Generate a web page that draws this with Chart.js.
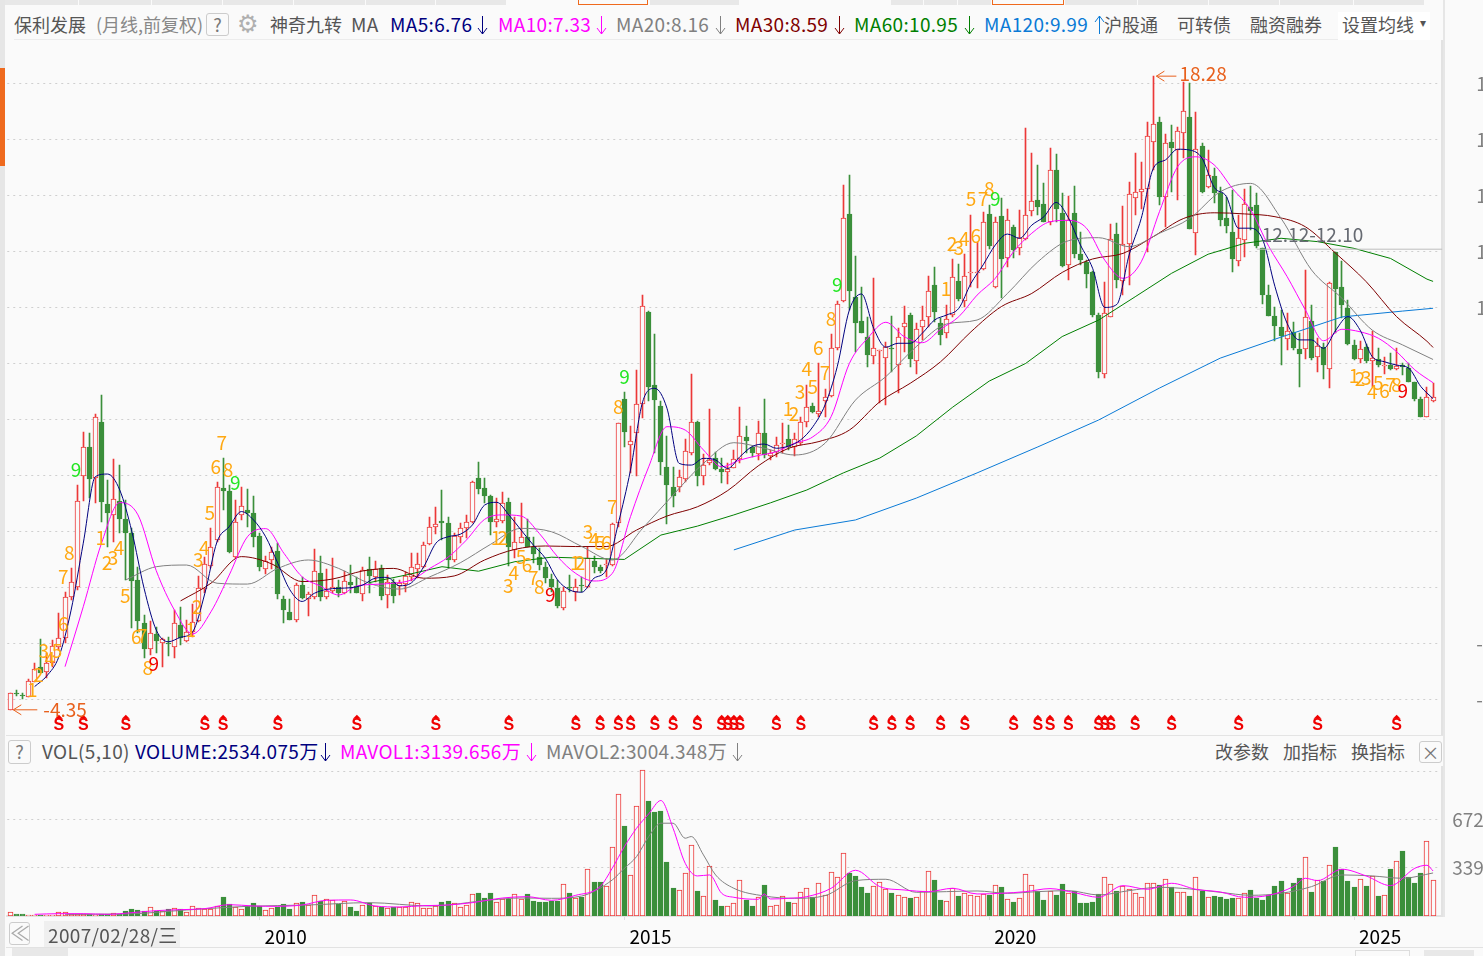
<!DOCTYPE html>
<html>
<head>
<meta charset="utf-8">
<title>保利发展 月线</title>
<script src="https://cdn.jsdelivr.net/npm/chart.js@4/dist/chart.umd.min.js"></script>
<style>
html, body { margin: 0; padding: 0; width: 1483px; height: 956px; overflow: hidden; background: #fafafa; }
body { position: relative; font-family: "Noto Sans CJK SC", "Noto Sans", sans-serif; font-size: 18px; }
canvas { position: absolute; left: 0; }
.t { position: absolute; white-space: nowrap; line-height: 24px; height: 24px; }
.box { position: absolute; border: 1px solid #ccc; border-radius: 3px; box-sizing: border-box; text-align: center; color: #777; line-height: 20px; }
.bar { position: absolute; background: #e8e8e8; box-sizing: border-box; }
</style>
</head>
<body>
<canvas id="priceChart" width="1540" height="695" style="top:40px;width:1540px;height:695px"></canvas>
<canvas id="volChart" width="1540" height="182" style="top:766px;width:1540px;height:182px"></canvas>
<script>
// monthly candles
var opens = [
-4.35,-3.74,-3.81,-3.88,-3.35,-2.81,-2.99,-2.69,-2.10,-1.80,-0.31,0.05,4.00,5.02,3.92,5.93,2.99,2.61,3.12,2.45,
1.98,0.29,-1.26,-2.19,-1.64,-1.95,-1.96,-2.10,-1.32,-1.90,-1.56,-1.17,-0.05,0.79,1.71,3.56,3.46,1.10,2.61,2.79,
2.67,1.86,0.67,0.99,1.32,-0.39,-0.86,-1.14,0.11,-0.38,-0.31,0.52,-0.33,-0.10,0.02,-0.19,0.21,0.07,-0.23,0.67,
0.39,0.71,-0.26,0.20,0.07,0.14,0.40,0.69,0.76,1.57,2.17,2.39,2.31,0.99,1.83,2.13,2.35,3.93,3.57,3.29,
2.37,2.40,3.07,1.36,1.62,1.83,1.48,1.12,0.74,0.32,-0.01,-0.70,0.02,-0.13,0.10,0.02,0.98,0.74,0.82,0.82,
2.31,6.74,5.10,5.55,6.56,9.86,7.24,6.50,4.32,3.60,3.62,3.88,4.81,5.94,4.01,4.45,4.63,4.25,4.13,4.27,
4.62,5.38,5.02,4.79,5.52,4.71,4.87,5.13,5.31,5.02,5.17,5.94,6.50,6.23,6.67,6.87,8.56,10.26,13.36,10.39,
9.54,8.95,8.29,8.45,8.20,8.56,7.96,9.31,9.75,8.10,9.31,9.67,10.81,9.45,9.10,9.74,10.95,10.25,11.24,11.27,
11.39,13.36,10.76,13.29,11.77,12.89,12.15,12.46,13.45,13.86,13.71,13.07,14.93,13.38,11.52,13.39,11.93,11.65,11.27,9.75,
7.63,9.69,12.64,10.98,12.27,13.92,14.15,14.24,15.94,16.64,13.95,15.92,15.64,16.26,16.82,12.67,15.79,14.33,14.71,14.12,
13.23,12.71,11.69,12.43,13.60,13.68,12.13,10.46,9.71,9.33,8.88,9.15,8.54,8.55,9.52,8.26,8.62,7.83,12.00,10.75,
10.00,8.68,8.19,8.62,8.12,8.19,7.92,7.95,7.81,7.95,7.86,7.35,6.74,6.10,6.69];
var closes = [
-3.76,-3.77,-3.83,-3.31,-2.88,-3.05,-2.69,-2.07,-1.80,-0.31,0.20,3.12,5.05,3.88,6.10,3.08,2.67,3.17,2.48,1.98,
0.26,-1.17,-2.17,-1.62,-1.89,-1.83,-1.99,-1.26,-1.80,-1.56,-1.20,-0.01,0.85,1.48,3.62,3.48,1.30,2.37,2.94,2.69,
1.83,0.76,0.98,1.27,-0.21,-0.79,-1.14,0.11,-0.35,-0.23,0.60,-0.31,-0.10,0.02,-0.19,0.24,0.12,-0.17,0.64,0.44,
0.67,-0.27,0.23,-0.27,0.17,0.43,0.74,0.85,1.52,2.17,2.27,2.33,1.00,1.87,2.13,2.35,3.77,3.55,3.29,2.37,
2.45,3.02,1.48,1.65,1.81,1.45,1.21,0.82,0.35,0.05,-0.64,-0.10,0.00,0.05,0.07,1.06,0.76,0.60,0.86,2.27,
5.88,5.58,5.26,6.56,10.06,7.19,6.71,4.51,3.69,3.30,3.98,4.88,5.92,4.01,4.39,4.57,4.26,4.15,4.25,4.62,
5.42,5.26,4.81,5.52,4.75,4.83,5.10,5.17,5.05,5.31,5.92,6.45,6.30,6.33,6.83,8.56,10.13,13.20,10.62,9.45,
9.12,8.33,8.56,8.49,8.62,8.52,8.95,9.45,8.19,9.24,9.56,10.60,9.87,9.05,9.62,11.10,10.33,11.15,11.27,11.30,
13.06,12.21,13.06,11.76,13.14,12.08,12.49,13.31,13.81,13.62,13.07,14.92,13.54,11.50,13.14,11.93,11.71,11.21,9.75,7.73,
9.81,12.46,11.01,12.27,14.06,14.14,14.24,16.14,16.56,13.98,15.88,15.70,16.32,17.02,12.83,15.67,14.15,14.75,14.12,13.14,
12.93,11.75,12.49,13.70,13.46,12.21,10.46,9.71,9.36,9.00,9.19,8.57,8.36,9.67,8.21,8.65,7.96,10.88,10.67,10.11,
8.71,8.17,8.52,8.11,8.20,7.96,7.95,7.83,7.94,7.90,7.37,6.76,6.12,6.81,6.81];
var highs = [
-3.76,-3.64,-3.74,-3.26,-2.69,-1.83,-2.33,-1.86,-0.90,-0.13,0.70,3.68,5.58,5.55,6.21,6.89,3.86,4.60,4.39,3.14,
2.13,0.76,-0.96,-1.17,-1.38,-1.80,-1.74,-0.79,-0.69,-1.14,-0.57,0.43,1.12,2.13,3.80,4.63,3.68,3.14,3.60,3.52,
3.29,1.95,1.14,1.45,1.60,-0.29,-0.39,0.17,0.38,-0.14,1.39,1.14,0.67,1.08,0.29,0.62,0.82,0.40,0.76,1.11,
0.95,0.82,0.46,0.31,0.29,0.58,1.24,1.24,1.64,2.52,2.90,3.50,2.52,1.95,2.33,2.61,3.82,4.50,3.92,3.32,
3.20,3.43,3.20,2.55,3.05,2.45,1.83,1.42,0.94,0.50,0.29,0.05,0.46,0.32,0.40,1.48,1.14,0.82,1.02,2.33,
5.90,7.00,5.79,7.79,10.46,9.90,9.07,6.68,5.43,4.33,4.21,5.31,7.64,5.98,4.79,6.38,4.87,4.63,4.48,4.93,
6.45,5.79,5.05,5.96,6.75,4.93,5.40,5.88,5.82,5.52,6.10,7.25,6.60,8.02,7.10,9.07,10.26,14.39,14.75,11.86,
10.74,9.69,11.07,8.50,8.80,9.71,9.27,10.07,9.81,9.45,10.07,11.14,11.45,9.63,10.11,11.74,11.56,11.93,13.32,12.37,
13.44,13.68,13.26,13.92,13.54,12.96,13.50,16.44,15.52,15.11,14.45,15.70,15.49,14.10,14.01,14.36,12.73,11.71,11.32,9.81,
10.92,13.00,13.02,13.65,14.49,15.54,15.20,16.65,18.28,16.83,16.20,16.54,16.45,18.06,18.02,17.01,15.88,15.64,14.99,14.33,
13.98,14.21,13.32,14.24,14.36,14.10,12.13,10.82,10.05,9.93,9.81,9.51,9.10,11.36,10.10,8.92,8.74,10.94,12.00,11.68,
10.29,8.86,8.82,8.71,9.17,8.56,8.26,8.38,8.56,8.02,8.02,7.37,6.83,7.19,7.31];
var lows = [
-4.35,-3.86,-3.98,-3.88,-3.35,-3.05,-3.23,-2.81,-2.21,-1.98,-0.43,-0.07,3.12,3.20,3.02,2.37,1.48,1.65,1.95,0.29,
-1.44,-1.62,-2.51,-2.39,-2.31,-2.81,-2.43,-2.51,-2.04,-1.92,-1.74,-1.20,-0.19,0.70,1.65,2.79,1.26,1.06,2.43,2.19,
1.45,0.62,0.50,0.68,-0.38,-1.24,-1.14,-1.20,-0.40,-1.00,-0.40,-0.46,-0.38,-0.19,-0.33,-0.23,-0.19,-0.19,-0.46,-0.17,
0.23,-0.43,-0.70,-0.52,-0.25,-0.15,0.26,0.35,0.70,1.54,1.93,1.71,0.73,0.94,1.60,1.77,2.31,3.36,3.02,1.89,
2.19,2.31,0.79,1.06,1.60,1.45,0.88,0.64,0.19,-0.13,-0.73,-0.79,-0.13,-0.45,-0.13,-0.01,0.52,0.55,0.40,0.79,
2.19,5.05,4.10,4.00,6.08,6.69,4.81,4.04,2.27,2.90,3.44,3.80,4.75,3.65,3.68,4.39,4.21,3.76,3.71,4.27,
4.45,4.81,4.67,4.57,4.63,4.57,4.67,4.81,4.93,4.71,5.11,5.76,6.26,6.12,6.12,6.83,8.50,10.23,9.93,8.44,
9.10,7.90,8.00,6.62,6.54,7.73,6.95,8.44,7.90,7.63,8.86,9.33,9.51,8.68,8.94,9.69,10.26,10.05,10.76,10.73,
11.36,12.11,10.70,10.35,11.48,11.77,11.89,12.43,13.30,13.32,13.07,12.96,13.08,11.48,11.00,11.77,11.54,10.73,9.69,7.49,
7.49,9.69,10.70,10.46,10.82,13.32,13.54,12.01,14.93,13.68,12.90,14.15,13.86,15.35,12.83,11.89,14.10,14.27,13.76,12.93,
12.67,11.30,11.50,11.83,12.79,12.13,10.14,9.71,8.83,7.96,8.50,8.50,7.19,8.17,8.14,7.73,7.45,7.15,9.10,9.63,
8.68,8.14,8.02,8.05,7.19,7.88,7.63,7.79,7.79,7.61,7.35,6.69,6.12,6.10,6.65];

// volume, in 万
var volumes = [
256,140,140,93,70,70,70,70,256,256,140,140,140,140,93,117,117,210,117,350,
489,419,326,606,350,373,466,536,466,256,676,536,466,466,722,1328,816,606,466,722,
909,722,396,536,652,839,466,885,979,769,1445,1025,1165,1118,839,1072,629,350,792,932,
676,629,536,652,629,629,955,885,559,536,699,955,1049,885,652,769,1515,1608,1258,1608,
979,1165,1188,1515,1212,1538,1049,979,979,1049,1072,2214,1584,1258,1351,3262,2377,2377,2120,4800,
8505,6291,2866,7666,10205,8039,7270,7340,3775,1957,1794,2982,4940,1748,1375,3472,1118,699,676,885,
2493,1118,699,1305,2167,676,746,1375,1002,885,1654,1934,1305,2283,1445,3052,2703,4380,3006,2796,
2027,1608,2097,2377,1864,1608,1445,1305,1258,1351,1724,3122,2516,1118,1025,1934,1398,1584,1468,1375,
1538,1468,2144,2004,1165,979,1235,2913,2144,1724,1118,1724,1468,2237,1584,1724,909,909,979,1538,
2703,2214,1771,2120,1864,1584,1305,2283,2283,2167,2563,2004,1654,1654,1398,2703,1771,1305,1398,1328,
1188,1282,1258,1584,1817,1258,1118,1445,2097,2447,1631,2307,2656,4101,1678,2493,2447,3542,4823,3262,
2447,2027,2563,2097,2796,1398,1468,3285,3821,4544,2703,2307,3006,5219,2534];

// moving averages, read every few months along each line
var ma5 = [
-3.52,-3.14,-2.45,-0.79,1.60,3.98,4.07,3.50,2.01,-0.01,-1.50,-1.92,-1.76,-1.56,-0.19,1.65,2.19,2.73,
2.43,1.83,0.88,-0.07,-0.48,-0.19,-0.05,-0.01,0.01,0.11,0.35,0.38,0.08,0.19,0.76,1.60,1.83,1.92,2.25,2.96,
3.06,2.61,2.07,1.54,1.06,0.29,-0.07,-0.15,0.35,0.64,2.31,4.21,6.65,7.13,6.42,4.45,4.39,4.63,4.57,4.27,
4.69,5.05,5.14,4.99,5.07,5.29,5.76,6.54,7.90,9.93,10.50,9.27,8.60,8.74,8.74,9.10,9.57,9.75,9.99,
10.88,11.54,12.25,12.64,12.49,12.96,13.26,13.77,13.23,12.25,11.42,10.02,10.13,11.89,13.20,14.99,15.29,15.67,15.64,15.35,
14.31,13.98,12.85,12.85,12.43,10.76,9.45,8.86,8.86,8.56,9.21,9.69,9.21,8.26,8.08,7.96,7.85,7.19,6.76];
var ma10 = [
-2.81,-0.67,1.60,3.05,2.61,0.62,-0.79,-1.64,-0.85,0.46,1.83,
2.12,1.24,0.40,0.07,-0.25,0.07,0.13,0.17,0.29,0.70,1.10,1.71,2.45,
2.61,2.57,1.95,1.12,0.52,0.25,0.52,2.55,4.33,5.76,5.64,4.93,4.33,
4.57,4.73,4.87,5.17,5.40,6.12,8.02,8.92,9.49,8.98,8.76,9.24,9.69,
10.46,11.06,12.01,12.67,13.08,13.13,12.85,11.71,11.06,11.65,13.44,15.05,15.40,
15.11,14.27,13.50,12.19,11.12,9.93,8.83,9.24,9.15,8.92,8.44,7.79,7.33];
var ma20 = [
0.29,0.76,0.82,0.17,0.14,0.70,1.00,0.70,0.17,-0.04,0.40,0.90,1.56,
2.13,2.01,1.48,1.00,2.13,3.32,4.45,5.19,4.99,4.75,5.17,6.71,7.55,8.62,9.43,
9.57,10.52,11.65,12.40,12.51,12.19,12.67,13.20,14.15,14.45,13.20,11.36,10.35,9.21,8.68,8.16];
var ma30 = [
-0.46,0.17,1.12,0.86,0.23,0.32,0.61,0.70,0.35,0.43,1.00,
1.38,1.50,1.48,1.48,2.07,2.57,2.90,3.48,4.36,4.99,5.23,5.64,6.65,7.31,8.08,
9.15,10.05,10.52,11.27,11.75,11.95,12.55,13.20,13.40,13.36,13.26,12.90,11.95,10.94,9.69,8.81];
var ma60 = [
0.19,0.46,0.76,0.60,0.94,1.10,1.06,1.02,1.89,2.21,2.61,3.04,3.50,4.11,4.64,5.43,6.46,
7.39,8.02,8.98,9.57,10.40,11.24,11.92,12.31,12.49,12.37,12.13,11.77,11.03];
var ma120 = [1.36,2.07,2.43,3.21,4.11,5.04,6.00,7.14,8.21,8.96,9.68,9.89];
var maLast = { ma30: 8.59, ma60: 10.95, ma120: 9.99 };

var mavol1At = [4,8,12,16,20,24,28,32,36,40,44,48,52,56,60,64,68,72,76,81,85,89,93,97,99,101,103,105,107,109,111,113,115,117,119,123,124,125,128,131,135,139,143,147,151,155,159,163,167,171,175,179,183,187,191,195,199,203,207,211,213,215,219,223,227,231,233,234];
var mavol1 = [117,163,163,117,233,373,443,513,792,699,676,769,1095,1118,699,629,722,769,932,1258,1351,1095,1445,2050,3332,4846,6128,7130,8062,6128,3681,2796,2866,1584,1305,1165,1538,1188,1235,1351,1934,3192,2050,1817,1701,1934,1538,1584,1701,1911,1631,1305,2120,1864,2283,1864,1678,1305,1445,2050,2633,2470,3262,2796,2120,3332,3542,3140];
var mavol2At = [9,19,29,39,49,59,69,79,84,89,94,99,101,103,105,107,109,111,112,114,116,119,124,129,134,139,144,149,154,159,164,169,174,179,184,189,194,199,204,209,214,219,224,229,234];
var mavol2 = [117,140,419,676,769,932,699,1118,1258,1235,1398,2516,3332,4147,5545,6477,6477,5429,5545,4264,2866,1934,1398,1235,1421,2470,2563,1654,1701,1748,1584,1701,1771,1468,1771,2004,1887,1654,1445,1584,2050,2866,2796,2633,3004];

// 神奇九转 counts: digit, month position, price level
var nineDigits = "123456789123456789123456789123456789123456789123456789123456789123456789";
var nineIdx = [3.6,4.6,5.5,6.5,7.7,8.7,8.7,9.7,10.8,14.9,15.9,16.9,17.9,18.9,20.7,21.7,22.6,23.6,29.7,30.7,30.9,31.9,32.8,33.8,34.8,35.8,37,79.9,81,81.9,82.8,84,85,86,87,88.8,92.9,93.7,95,96,97,98,99,100,101,127.9,128.9,129.9,131,132,132.9,134,135,136,153.9,154.9,156,156.9,158,158.8,160,161,162,221,222,223,224,225,226,227,228,229];
var nineVal = [-3.64,-3.11,-2.25,-2.54,-2.25,-1.29,0.39,1.25,4.21,1.79,0.89,1.07,1.43,-0.29,-1.75,-1.71,-2.86,-2.71,-1.5,-0.68,1.0,1.43,2.68,4.32,5.18,4.21,3.75,1.79,1.79,0.07,0.54,1.11,0.82,0.36,0.04,-0.25,0.89,0.89,2.0,1.71,1.61,1.61,2.89,6.46,7.54,6.39,6.21,7.0,7.82,7.18,8.57,7.68,9.61,10.82,10.68,12.29,12.14,12.46,13.89,12.57,13.89,14.25,13.89,7.57,7.46,7.5,7.0,7.32,7.04,7.25,7.25,7.04];
var redNineAt = [23.6, 88.8, 229];
// S marks in the bottom row
var sMarks = [8,12,19,32,35,44,57,70,82,93,97,100,102,106,109,113,117,118,119,120,126,130,142,145,148,153,157,165,169,171,174,179,180,181,185,191,202,215,228];
var priceHigh = 18.28, priceLow = -4.35, lineFrom = 12.12, lineTo = 12.10;
var yearTicks = ["2010/01", "2015/01", "2020/01", "2025/01"];
var volTicks = [0, 3395, 6725, 10060];

var months = [];
var yy = 2006, mm = 8;
for (var n = 0; n < 236; n++) {
    months.push(yy + "/" + (mm < 10 ? "0" : "") + mm);
    mm++;
    if (mm > 12) { mm = 1; yy++; }
}

function sparse(vals, start, step, last) {
    var out = new Array(months.length - 1).fill(null);
    vals.forEach(function (v, k) { out[start + k * step] = v; });
    if (last !== undefined) out[234] = last;
    return out;
}
function placed(at, vals) {
    var out = new Array(months.length - 1).fill(null);
    at.forEach(function (a, k) { out[a] = vals[k]; });
    return out;
}

var RED = "#ec3838", GREEN = "#3b8f3b", PANE = "#fafafa", FONT = "'Noto Sans CJK SC','Noto Sans',sans-serif";
function isUp(i) { return closes[i] >= opens[i]; }
function maLine(label, data, color, order, straight) {
    var ds = { type: "line", label: label, data: data, borderColor: color, borderWidth: 1, pointRadius: 0, spanGaps: true, order: order };
    if (!straight) ds.cubicInterpolationMode = "monotone";
    return ds;
}

// snap bars to whole pixels so the candles stay crisp
var snapBars = {
    id: "snapBars",
    afterDatasetsUpdate: function (chart) {
        chart.data.datasets.forEach(function (ds, d) {
            var meta = chart.getDatasetMeta(d);
            if (meta.type !== "bar") return;
            meta.data.forEach(function (el) {
                el.x = Math.floor(el.x) + 0.5;
                el.y = Math.round(el.y);
                el.base = Math.round(el.base);
                if (el.y === el.base) el.base = el.y + 1;
            });
        });
    }
};

// text marks on the price pane
var priceMarks = {
    id: "priceMarks",
    afterDatasetsDraw: function (chart) {
        var c = chart.ctx, x = chart.scales.x, y = chart.scales.y;
        c.save();
        c.textBaseline = "middle";
        c.textAlign = "center";
        c.font = "19px " + FONT;
        nineIdx.forEach(function (ix, k) {
            var d = nineDigits.charAt(k);
            c.fillStyle = "#ffa811";
            if (d === "9") c.fillStyle = redNineAt.indexOf(ix) >= 0 ? "#f00000" : "#22e622";
            c.fillText(d, x.getPixelForValue(ix), y.getPixelForValue(nineVal[k]));
        });
        // S marks
        c.fillStyle = "#f00000";
        sMarks.forEach(function (ix) {
            var px = x.getPixelForValue(ix), py = y.getPixelForValue(-4.85);
            c.font = "bold 16px 'Liberation Sans'";
            c.fillText("S", px, py + 2);
            c.beginPath();
            c.moveTo(px - 4, py - 5);
            c.lineTo(px, py - 9);
            c.lineTo(px + 4, py - 5);
            c.fill();
        });
        // highest and lowest price
        c.strokeStyle = c.fillStyle = "#e8601c";
        c.lineWidth = 1;
        c.font = "19px " + FONT;
        c.textAlign = "left";
        var hx = x.getPixelForValue(188) + 3, hy = y.getPixelForValue(priceHigh);
        arrowLeft(c, hx, hy, 20);
        c.fillText(priceHigh.toFixed(2), hx + 23, hy - 2);
        var lx = x.getPixelForValue(0) + 3, ly = y.getPixelForValue(priceLow);
        arrowLeft(c, lx, ly, 24);
        c.fillText(priceLow.toFixed(2), lx + 30, ly);
        // range line
        var rx = x.getPixelForValue(205), ry = y.getPixelForValue(lineTo);
        c.strokeStyle = "#bdbdbd";
        c.beginPath();
        c.moveTo(rx, ry);
        c.lineTo(chart.chartArea.right, ry);
        c.stroke();
        c.fillStyle = "#666a72";
        c.fillText(lineFrom.toFixed(2) + "-" + lineTo.toFixed(2), rx + 5, ry - 14);
        c.restore();
    }
};
function arrowLeft(c, px, py, len) {
    c.beginPath();
    c.moveTo(px + len, py);
    c.lineTo(px, py);
    c.moveTo(px + 8, py - 5);
    c.lineTo(px, py);
    c.lineTo(px + 8, py + 5);
    c.stroke();
}

new Chart(document.getElementById("priceChart"), {
    type: "bar",
    plugins: [snapBars, priceMarks],
    data: {
        labels: months,
        datasets: [
            maLine("MA5", sparse(ma5, 4, 2), "#00007f", 1),
            maLine("MA10", sparse(ma10, 9, 3), "#ff00ff", 2),
            maLine("MA20", sparse(ma20, 19, 5), "#808080", 3),
            maLine("MA30", sparse(ma30, 28, 5, maLast.ma30), "#7f0000", 4),
            maLine("MA60", sparse(ma60, 59, 6, maLast.ma60), "#007f00", 5, true),
            maLine("MA120", sparse(ma120, 119, 10, maLast.ma120), "#0a7ad6", 6, true),
            {
                label: "body",
                data: opens.map(function (o, i) { return [o, closes[i]]; }),
                grouped: false,
                barThickness: 5,
                borderWidth: 1,
                borderSkipped: false,
                borderColor: function (ctx) { return isUp(ctx.dataIndex) ? RED : GREEN; },
                backgroundColor: function (ctx) { return isUp(ctx.dataIndex) ? PANE : GREEN; },
                order: 9
            },
            {
                label: "wick",
                data: lows.map(function (l, i) { return [l, highs[i]]; }),
                grouped: false,
                barThickness: 1,
                borderWidth: 0,
                backgroundColor: function (ctx) { return isUp(ctx.dataIndex) ? RED : GREEN; },
                order: 10
            }
        ]
    },
    options: {
        responsive: false,
        animation: false,
        layout: { padding: { left: 7.26, top: 0, bottom: 0, right: 0 } },
        plugins: { legend: { display: false }, tooltip: { enabled: false } },
        scales: {
            x: { display: false, offset: true },
            y: {
                position: "right",
                min: -5.25,
                max: 19.571,
                afterBuildTicks: function (axis) {
                    axis.ticks = axis.ticks.filter(function (t) { return t.value % 2 === 0; });
                },
                afterFit: function (axis) {
                    axis.width = 97.8;
                    axis.paddingTop = 0;
                    axis.paddingBottom = 0;
                },
                ticks: {
                    stepSize: 2,
                    padding: 34,
                    color: "#808080",
                    font: { size: 19, family: FONT },
                    // right-aligned in the app, so only the widest labels reach the window edge
                    callback: function (v) { return (v >= 0 && v < 10 ? "   " : "") + v.toFixed(2); }
                },
                grid: { color: "#cfcfcf", tickLength: 0, drawTicks: false },
                border: { color: "#e2e2e2", width: 2, dash: [2, 4] }
            }
        }
    }
});

new Chart(document.getElementById("volChart"), {
    type: "bar",
    plugins: [snapBars],
    data: {
        labels: months,
        datasets: [
            maLine("MAVOL1", placed(mavol1At, mavol1), "#ff00ff", 1),
            maLine("MAVOL2", placed(mavol2At, mavol2), "#808080", 2),
            {
                label: "VOLUME",
                data: volumes,
                barThickness: 5,
                borderWidth: 1,
                borderSkipped: false,
                borderColor: function (ctx) { return isUp(ctx.dataIndex) ? RED : GREEN; },
                backgroundColor: function (ctx) { return isUp(ctx.dataIndex) ? PANE : GREEN; },
                order: 9
            }
        ]
    },
    options: {
        responsive: false,
        animation: false,
        layout: { padding: { left: 7.26, top: 0, bottom: 0, right: 0 } },
        plugins: { legend: { display: false }, tooltip: { enabled: false } },
        scales: {
            x: {
                offset: true,
                afterBuildTicks: function (axis) {
                    axis.ticks = axis.ticks.filter(function (t) { return yearTicks.indexOf(months[t.value]) >= 0; });
                },
                afterFit: function (axis) { axis.height = 32; },
                ticks: {
                    autoSkip: false,
                    maxRotation: 0,
                    align: "start",
                    labelOffset: 5,
                    padding: 5,
                    color: "#000",
                    font: { size: 19, family: FONT },
                    callback: function (v) { return months[v].slice(0, 4); }
                },
                grid: { offset: false, drawOnChartArea: false, tickLength: 4, color: "#dcdcdc" },
                border: { color: "#e2e2e2", width: 2 }
            },
            y: {
                position: "right",
                min: 0,
                max: 10470,
                afterBuildTicks: function (axis) {
                    axis.ticks = volTicks.map(function (v) { return { value: v }; });
                },
                afterFit: function (axis) {
                    axis.width = 97.8;
                    axis.paddingTop = 0;
                    axis.paddingBottom = 0;
                },
                ticks: {
                    padding: 10,
                    color: "#808080",
                    font: { size: 19, family: FONT },
                    callback: function (v) { return v === 3395 || v === 6725 ? v + "万" : ""; }
                },
                grid: { color: "#cfcfcf", drawTicks: false },
                border: { color: "#e2e2e2", width: 2, dash: [2, 4] }
            }
        }
    }
});

// page furniture around the charts
function txt(x, y, s, color, extra) {
    var el = document.createElement("div");
    el.className = "t";
    el.style.left = x + "px";
    el.style.top = (y - 12) + "px";
    el.style.color = color;
    if (extra) el.style.cssText += extra;
    el.textContent = s;
    document.body.appendChild(el);
}
function block(x, y, w, h, bg, extra) {
    var el = document.createElement("div");
    el.className = "bar";
    el.style.cssText = "left:" + x + "px;top:" + y + "px;width:" + w + "px;height:" + h + "px;background:" + bg + ";" + (extra || "");
    document.body.appendChild(el);
    return el;
}
function arrow(x, y, color, up) {
    var ns = "http://www.w3.org/2000/svg";
    var s = document.createElementNS(ns, "svg");
    s.setAttribute("width", 11);
    s.setAttribute("height", 20);
    s.style.cssText = "position:absolute;left:" + (x - 5) + "px;top:" + (y - 9) + "px";
    var p = document.createElementNS(ns, "path");
    p.setAttribute("d", up ? "M5.5 19V1M1 7L5.5 1L10 7" : "M5.5 1V19M1 13L5.5 19L10 13");
    p.setAttribute("stroke", color);
    p.setAttribute("fill", "none");
    s.appendChild(p);
    document.body.appendChild(s);
}
function box(x, y, w, h, s, extra) {
    var el = document.createElement("div");
    el.className = "box";
    el.style.cssText = "left:" + x + "px;top:" + y + "px;width:" + w + "px;height:" + h + "px;" + (extra || "");
    el.textContent = s;
    document.body.appendChild(el);
}

// top tab strip
[[0,79],[79,152],[152,223],[223,294],[294,366],[366,436],[436,507],[650,740],[891,924],[924,958],[958,992],[1065,1138],[1138,1209],[1209,1280],[1280,1354],[1354,1425]].forEach(function (t) {
    block(t[0], 0, t[1] - t[0] - 1, 5, "#e8e8e8");
});
block(578, 0, 70, 5, "#fafafa", "border:1px solid #ef6a1e;border-top:none");
block(992, 0, 72, 5, "#fafafa", "border:1px solid #ef6a1e;border-top:none");
block(0, 0, 5, 956, "#e6e6e6");
block(0, 68, 5, 98, "#ef6a1e");
block(14, 39, 1416, 1, "#ececec");
block(6, 735, 1437, 1, "#e4e4e4");
block(1443, 0, 2, 917, "#e6e6e6");
block(6, 947, 1477, 1, "#e2e2e2");

var Y1 = 24, Y2 = 751, BIG = "font-size:19px;letter-spacing:.33px";
txt(14, Y1, "保利发展", "#555");
txt(96, Y1, "(月线,前复权)", "#888");
box(206, 13, 23, 23, "?");
txt(237, Y1, "⚙", "#b0b0b0", "font-family:'DejaVu Sans';font-size:24px");
txt(270, Y1, "神奇九转", "#555");
txt(351, Y1, "MA", "#555", BIG);
txt(390, Y1, "MA5:6.76", "#00007f", BIG);
arrow(482, Y1, "#00007f");
txt(498, Y1, "MA10:7.33", "#ff00ff", BIG);
arrow(601, Y1, "#ff00ff");
txt(616, Y1, "MA20:8.16", "#808080", BIG);
arrow(720, Y1, "#808080");
txt(735, Y1, "MA30:8.59", "#7f0000", BIG);
arrow(839, Y1, "#7f0000");
txt(854, Y1, "MA60:10.95", "#007f00", BIG);
arrow(969, Y1, "#007f00");
txt(984, Y1, "MA120:9.99", "#0a7ad6", BIG);
arrow(1099, Y1, "#0a7ad6", true);
txt(1104, Y1, "沪股通", "#555");
txt(1177, Y1, "可转债", "#555");
txt(1250, Y1, "融资融券", "#555");
block(1338, 12, 92, 28, "#fff");
txt(1342, Y1, "设置均线", "#555");
txt(1420, Y1 - 2, "▾", "#555", "font-size:12px");

box(8, 740, 23, 24, "?");
txt(42, Y2, "VOL(5,10)", "#555", BIG);
txt(135, Y2, "VOLUME:2534.075万", "#00007f", BIG);
arrow(325, Y2, "#00007f");
txt(340, Y2, "MAVOL1:3139.656万", "#ff00ff", BIG);
arrow(531, Y2, "#ff00ff");
txt(546, Y2, "MAVOL2:3004.348万", "#808080", BIG);
arrow(737, Y2, "#808080");
txt(1215, Y2, "改参数", "#555");
txt(1283, Y2, "加指标", "#555");
txt(1351, Y2, "换指标", "#555");
box(1419, 741, 23, 22, "×");

// bottom row
box(9, 922, 21, 23, "≪", "font-size:20px;color:#aaa");
block(44, 921, 136, 26, "#efefef");
txt(48, 935, "2007/02/28/三", "#555", BIG);
block(12, 948, 56, 8, "#e8e8e8");
block(1355, 950, 55, 6, "#fafafa", "border:1px solid #ddd;border-bottom:none");
block(1424, 950, 50, 6, "#e8e8e8");
</script>
</body>
</html>
